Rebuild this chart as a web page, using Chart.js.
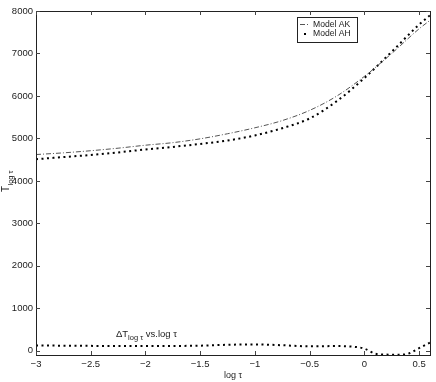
<!DOCTYPE html>
<html>
<head>
<meta charset="utf-8">
<script src="https://cdn.jsdelivr.net/npm/chart.js@4/dist/chart.umd.min.js"></script>
<style>
  html, body { margin: 0; padding: 0; background: #fff; }
  #wrap { width: 436px; height: 382px; position: relative; }
</style>
</head>
<body>
<div id="wrap"><canvas id="chart"></canvas></div>
<script>
// Temperature curves, sampled in log tau
const logTau = [-3, -2.75, -2.5, -2.25, -2, -1.75, -1.5, -1.25, -1, -0.75, -0.5, -0.25, 0, 0.25, 0.5, 0.6];
const tModelAK = [4620, 4660, 4710, 4770, 4840, 4900, 4990, 5110, 5250, 5420, 5660, 6000, 6460, 7000, 7580, 7780];
const tModelAH = [4510, 4560, 4610, 4670, 4740, 4800, 4870, 4950, 5070, 5240, 5470, 5880, 6420, 7040, 7680, 7900];

// Difference curve
const dLogTau = [-3, -2.5, -2, -1.5, -1.25, -1, -0.75, -0.5, -0.25, -0.1, 0, 0.1, 0.2, 0.3, 0.4, 0.5, 0.6];
const deltaT = [125, 115, 110, 120, 140, 150, 130, 105, 110, 95, 50, -70, -90, -95, -70, 60, 190];

const seriesLabels = ['Model AK', 'Model AH'];
const xTicks = [-3, -2.5, -2, -1.5, -1, -0.5, 0, 0.5];
const yTicks = [0, 1000, 2000, 3000, 4000, 5000, 6000, 7000, 8000];

const FONT = 'Liberation Sans, Arial, Helvetica, sans-serif';
const AK_DASH = [5, 2, 1, 2];
const AH_DASH = [2, 3.5];

function toPoints(xs, ys) {
    return xs.map((x, i) => ({ x: x, y: ys[i] }));
}

// Frame, inward ticks, y title, annotation and legend
const framePlugin = {
    id: 'frame',
    afterDraw(chart) {
        const ctx = chart.ctx;
        const a = chart.chartArea;
        const xs = chart.scales.x;
        const ys = chart.scales.y;
        ctx.save();
        ctx.strokeStyle = '#222';
        ctx.lineWidth = 1;
        ctx.strokeRect(a.left + 0.5, a.top + 0.5, a.right - a.left, a.bottom - a.top);

        ctx.strokeStyle = '#444';
        ctx.beginPath();
        xTicks.forEach(v => {
            const px = Math.round(xs.getPixelForValue(v)) + 0.5;
            ctx.moveTo(px, a.bottom); ctx.lineTo(px, a.bottom - 4);
            ctx.moveTo(px, a.top); ctx.lineTo(px, a.top + 4);
        });
        yTicks.forEach(v => {
            const py = Math.round(ys.getPixelForValue(v)) + 0.5;
            ctx.moveTo(a.left, py); ctx.lineTo(a.left + 4, py);
            ctx.moveTo(a.right, py); ctx.lineTo(a.right - 4, py);
        });
        ctx.stroke();

        // y axis title T_{log tau}
        ctx.fillStyle = '#222';
        ctx.translate(9, 192);
        ctx.rotate(-Math.PI / 2);
        ctx.textBaseline = 'alphabetic';
        ctx.textAlign = 'left';
        ctx.font = '10px ' + FONT;
        ctx.fillText('T', 0, 0);
        ctx.font = '7.5px ' + FONT;
        ctx.fillText('log τ', 6.5, 3.5);
        ctx.restore();

        // annotation
        ctx.save();
        ctx.fillStyle = '#222';
        ctx.textAlign = 'left';
        ctx.textBaseline = 'alphabetic';
        let ax = xs.getPixelForValue(-2.27);
        const ay = ys.getPixelForValue(330);
        ctx.font = '9.5px ' + FONT;
        ctx.fillText('ΔT', ax, ay);
        ax += ctx.measureText('ΔT').width;
        ctx.font = '7.5px ' + FONT;
        ctx.fillText('log τ', ax, ay + 3.5);
        ax += ctx.measureText('log τ').width;
        ctx.font = '9.5px ' + FONT;
        ctx.fillText(' vs.log τ', ax, ay);
        ctx.restore();

        // legend box
        ctx.save();
        const lx = 297, ly = 17, lw = 60, lh = 25;
        ctx.fillStyle = '#fff';
        ctx.fillRect(lx, ly, lw, lh);
        ctx.strokeStyle = '#222';
        ctx.strokeRect(lx + 0.5, ly + 0.5, lw, lh);
        ctx.strokeStyle = '#555';
        ctx.setLineDash(AK_DASH);
        ctx.beginPath();
        ctx.moveTo(lx + 3, ly + 7.5); ctx.lineTo(lx + 12, ly + 7.5);
        ctx.stroke();
        ctx.setLineDash([]);
        ctx.fillStyle = '#000';
        ctx.fillRect(lx + 7, ly + 16, 2, 2);
        ctx.fillStyle = '#222';
        ctx.font = '8.6px ' + FONT;
        ctx.textBaseline = 'middle';
        ctx.fillText(seriesLabels[0], lx + 16, ly + 7.5);
        ctx.fillText(seriesLabels[1], lx + 16, ly + 17);
        ctx.restore();
    }
};

function initChart() {
    new Chart(document.getElementById('chart'), {
        type: 'line',
        data: {
            datasets: [{
                label: seriesLabels[0],
                data: toPoints(logTau, tModelAK),
                borderColor: '#555',
                borderWidth: 1,
                borderDash: AK_DASH,
                pointRadius: 0,
                cubicInterpolationMode: 'monotone'
            }, {
                label: seriesLabels[1],
                data: toPoints(logTau, tModelAH),
                borderColor: '#000',
                borderWidth: 2,
                borderDash: AH_DASH,
                borderCapStyle: 'butt',
                pointRadius: 0,
                cubicInterpolationMode: 'monotone'
            }, {
                label: 'dT',
                data: toPoints(dLogTau, deltaT),
                borderColor: '#000',
                borderWidth: 2,
                borderDash: AH_DASH,
                borderCapStyle: 'butt',
                pointRadius: 0,
                cubicInterpolationMode: 'monotone'
            }]
        },
        options: {
            responsive: true,
            maintainAspectRatio: false,
            animation: false,
            layout: { padding: { top: 11, right: 6, left: 0, bottom: 0 } },
            plugins: {
                legend: { display: false },
                tooltip: { enabled: false }
            },
            scales: {
                x: {
                    type: 'linear',
                    min: -3,
                    max: 0.6,
                    grid: { display: false, drawTicks: false },
                    border: { display: false },
                    afterFit: s => { s.height = 27; },
                    afterBuildTicks: s => { s.ticks = xTicks.map(v => ({ value: v })); },
                    ticks: {
                        padding: 4,
                        color: '#222',
                        font: { family: FONT, size: 9.5 },
                        callback: v => String(v).replace('-', '\u2212'),
                        maxRotation: 0
                    },
                    title: {
                        display: true,
                        text: 'log τ',
                        color: '#222',
                        font: { family: FONT, size: 9 },
                        padding: { top: 0, bottom: 1 }
                    }
                },
                y: {
                    min: -100,
                    max: 8000,
                    grid: { display: false, drawTicks: false },
                    border: { display: false },
                    afterFit: s => { s.width = 36; },
                    afterBuildTicks: s => { s.ticks = yTicks.map(v => ({ value: v })); },
                    ticks: {
                        padding: 3,
                        color: '#222',
                        font: { family: FONT, size: 9.5 },
                        callback: v => String(v)
                    }
                }
            }
        },
        plugins: [framePlugin]
    });
}

document.addEventListener('DOMContentLoaded', initChart);
</script>
</body>
</html>
